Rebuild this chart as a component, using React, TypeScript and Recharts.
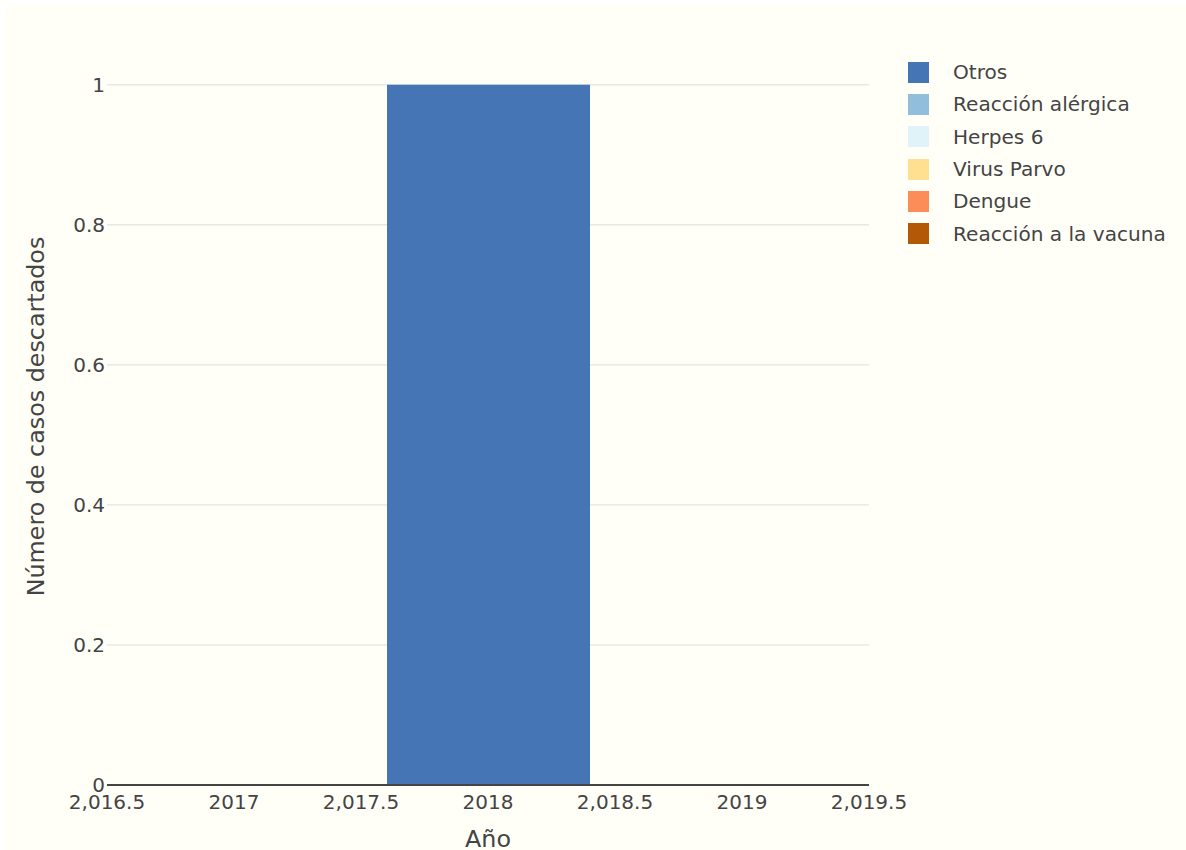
import { BarChart, Bar, XAxis, YAxis, CartesianGrid, Legend } from "recharts";

const years = [2017, 2018, 2019];
const otros = [0, 1, 0];
const reaccionAlergica = [0, 0, 0];
const herpes6 = [0, 0, 0];
const virusParvo = [0, 0, 0];
const dengue = [0, 0, 0];
const reaccionVacuna = [0, 0, 0];

const xTicks = [2016.5, 2017, 2017.5, 2018, 2018.5, 2019, 2019.5];
const xTickLabels = ["2,016.5", "2017", "2,017.5", "2018", "2,018.5", "2019", "2,019.5"];
const yTicks = [0, 0.2, 0.4, 0.6, 0.8, 1];
const gridValues = [0.2, 0.4, 0.6, 0.8, 1];

// bottom to top in the stack; legend shows them reversed
const series = [
  { key: "Reacción a la vacuna", values: reaccionVacuna, color: "#b35806" },
  { key: "Dengue", values: dengue, color: "#fc8d59" },
  { key: "Virus Parvo", values: virusParvo, color: "#fee090" },
  { key: "Herpes 6", values: herpes6, color: "#e0f3f8" },
  { key: "Reacción alérgica", values: reaccionAlergica, color: "#91bfdb" },
  { key: "Otros", values: otros, color: "#4575b4" }
];

const data = years.map((year, i) => {
  const row: Record<string, number> = { year };
  series.forEach((s) => {
    row[s.key] = s.values[i];
  });
  return row;
});

const FONT = "'DejaVu Sans', Verdana, sans-serif";
const TEXT = "#444";

function LegendBox() {
  const items = [...series].reverse();
  return (
    <div style={{ fontFamily: FONT, fontSize: 20.1, color: TEXT, width: 270 }}>
      {items.map((s) => (
        <div key={s.key} style={{ display: "flex", alignItems: "center", height: 32.3 }}>
          <span style={{ width: 21, height: 21, background: s.color, display: "inline-block" }} />
          <span style={{ marginLeft: 24, whiteSpace: "nowrap" }}>{s.key}</span>
        </div>
      ))}
    </div>
  );
}

export default function App() {
  return (
    <div
      style={{
        position: "absolute",
        left: 5,
        top: 5,
        width: 1181,
        height: 845,
        background: "#fffff8",
        fontFamily: FONT
      }}
    >
      <BarChart
        width={1181}
        height={845}
        data={data}
        margin={{ top: 43, right: 47, bottom: 25, left: 0 }}
      >
        <CartesianGrid
          stroke="#dcdcdc"
          strokeWidth={1}
          vertical={false}
          horizontalValues={gridValues}
        />
        <XAxis
          dataKey="year"
          type="number"
          domain={[2016.5, 2019.5]}
          ticks={xTicks}
          tickFormatter={(v: number) => xTickLabels[xTicks.indexOf(v)] ?? String(v)}
          allowDataOverflow
          height={40}
          tickLine={false}
          tickSize={0}
          tickMargin={10}
          axisLine={{ stroke: "#444", strokeWidth: 2 }}
          tick={{ fill: TEXT, fontSize: 20, fontFamily: FONT }}
          label={({ viewBox }: any) => (
            <text
              x={viewBox.x + viewBox.width / 2}
              y={842}
              textAnchor="middle"
              fill={TEXT}
              fontSize={23.8}
              fontFamily={FONT}
            >
              Año
            </text>
          )}
        />
        <YAxis
          type="number"
          domain={[0, 1.0526]}
          ticks={yTicks}
          allowDataOverflow
          width={102}
          tickLine={false}
          tickSize={0}
          tickMargin={2}
          axisLine={false}
          tick={{ fill: TEXT, fontSize: 20, fontFamily: FONT }}
          label={({ viewBox }: any) => {
            const cy = viewBox.y + viewBox.height / 2;
            return (
              <text
                x={39}
                y={cy}
                transform={`rotate(-90 39 ${cy})`}
                textAnchor="middle"
                fill={TEXT}
                fontSize={23.8}
                fontFamily={FONT}
              >
                Número de casos descartados
              </text>
            );
          }}
        />
        <Legend
          layout="vertical"
          align="right"
          verticalAlign="top"
          content={() => <LegendBox />}
          wrapperStyle={{ position: "absolute", left: 903, top: 51, width: 270 }}
        />
        {series.map((s) => (
          <Bar
            key={s.key}
            dataKey={s.key}
            stackId="a"
            fill={s.color}
            barSize={203}
            isAnimationActive={false}
          />
        ))}
      </BarChart>
    </div>
  );
}
